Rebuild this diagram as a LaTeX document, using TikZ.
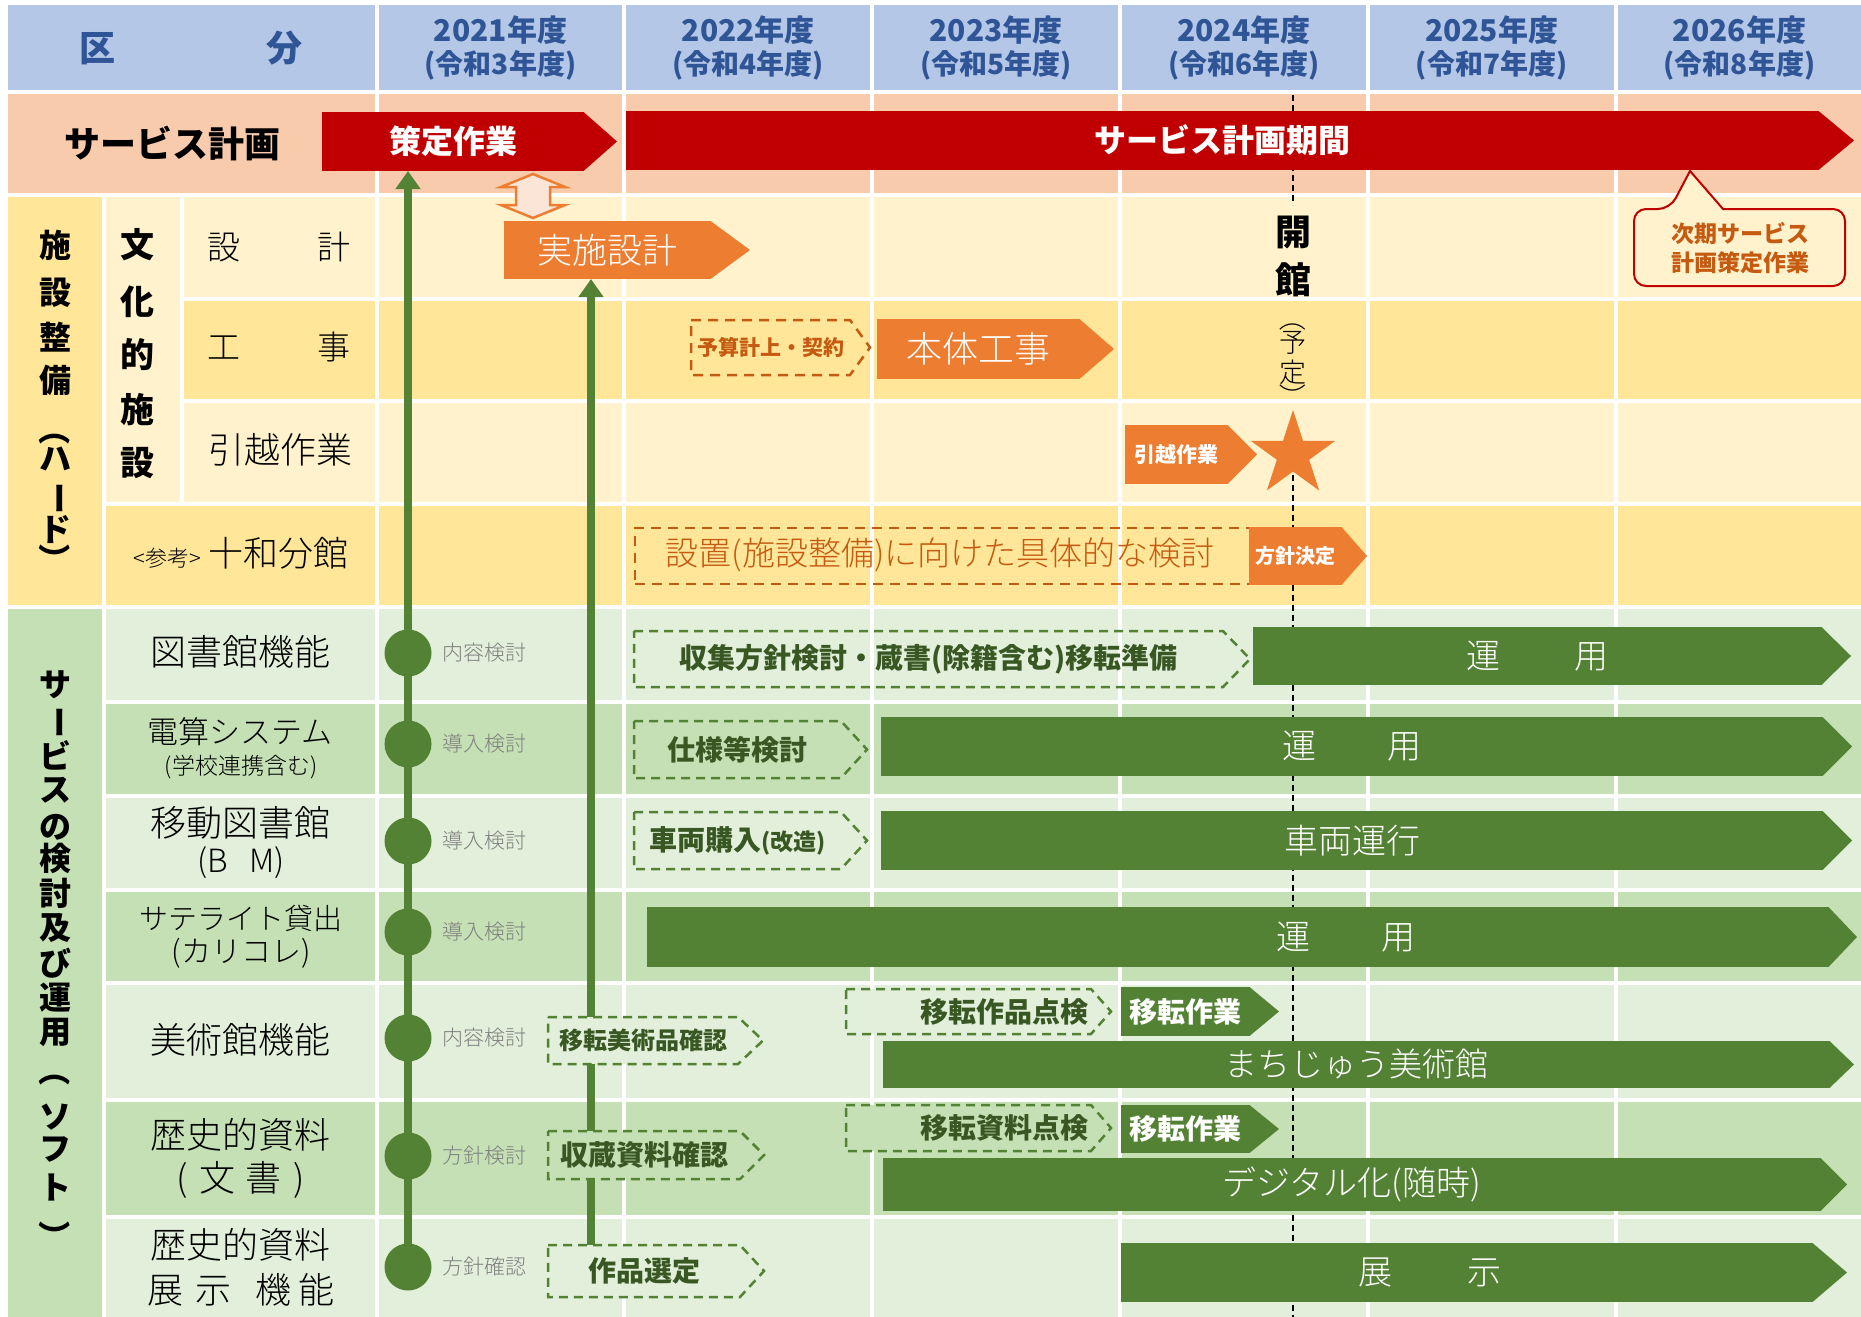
\documentclass[tikz,border=0pt]{standalone}
\usepackage{fontspec}
\setmainfont{Noto Sans CJK JP}
\newfontfamily\thinfont{Noto Sans CJK JP Light}
\usepackage{graphicx}
\usetikzlibrary{arrows.meta,shapes.geometric}

\definecolor{hdrblue}{HTML}{B4C7E7}
\definecolor{hdrtext}{HTML}{2F5597}
\definecolor{planpeach}{HTML}{F8CBAD}
\definecolor{hardL}{HTML}{FFF2CC}
\definecolor{hardD}{HTML}{FFE699}
\definecolor{softL}{HTML}{E2EFDA}
\definecolor{softD}{HTML}{C5E0B4}
\definecolor{planred}{HTML}{C00000}
\definecolor{barorange}{HTML}{ED7D31}
\definecolor{dashorange}{HTML}{C55A11}
\definecolor{arrowpeach}{HTML}{FBE5D6}
\definecolor{bargreen}{HTML}{548235}
\definecolor{textgreen}{HTML}{385723}
\definecolor{notegray}{HTML}{7F7F7F}

\newcommand{\fsz}[1]{\fontsize{#1pt}{#1pt}\selectfont}
\newcommand{\tatechar}[1]{\rotatebox[origin=c]{-90}{#1}}

\tikzset{
    gridline/.style={draw=white, line width=4pt},
    hdr/.style={text=hdrtext, font=\bfseries\fsz{30}, inner sep=0pt},
    rowname/.style={font=\thinfont\fsz{36}, inner sep=0pt},
    tatetext/.style={font=\bfseries\fsz{32}, inner sep=0pt},
    redbar/.style={fill=planred, text=white, font=\bfseries\fsz{32}, inner sep=0pt, outer sep=0pt},
    orangebar/.style={fill=barorange, text=white, inner sep=0pt, outer sep=0pt},
    greenbar/.style={fill=bargreen, text=white, font=\thinfont\fsz{34}, inner sep=0pt, outer sep=0pt},
    orangebox/.style={text=dashorange, font=\bfseries\fsz{21}, inner sep=0pt, outer sep=0pt},
    greenbox/.style={text=textgreen, font=\bfseries\fsz{28}, inner sep=0pt, outer sep=0pt},
    orangedash/.style={draw=dashorange, line width=2.5pt, dash pattern=on 10pt off 7pt},
    greendash/.style={draw=bargreen, line width=2.5pt, dash pattern=on 9pt off 6pt},
    milestone/.style={circle, fill=bargreen, minimum size=47pt, inner sep=0pt},
    note/.style={text=notegray, font=\thinfont\fsz{21}, inner sep=0pt, anchor=west, xshift=10pt},
    flow/.style={draw=bargreen, line width=8pt, -{Triangle[width=24pt,length=18pt]}},
    openline/.style={draw=black, line width=1.5pt, dash pattern=on 6pt off 4pt},
}

\begin{document}
\begin{tikzpicture}[x=1pt, y=-1pt, line width=1pt]
\useasboundingbox (0,0) rectangle (1861,1317);
\fill[white] (0,0) rectangle (1861,1317);

% bands
\fill[hdrblue] (8,5) rectangle (1861,92);
\fill[planpeach] (8,92) rectangle (1861,195);
\fill[hardD] (8,195) rectangle (104,607);
\fill[hardL] (104,195) rectangle (182,504);
\fill[hardL] (182,195) rectangle (1861,299);
\fill[hardD] (182,299) rectangle (1861,401);
\fill[hardL] (182,401) rectangle (1861,504);
\fill[hardD] (104,504) rectangle (1861,607);
\fill[softD] (8,607) rectangle (104,1317);
\foreach \top/\bot/\c in {607/701.5/softL, 701.5/795.5/softD, 795.5/889.5/softL, 889.5/983/softD, 983/1100/softL, 1100/1217/softD, 1217/1317/softL}
    \fill[\c] (104,\top) rectangle (1861,\bot);

% grid
\foreach \x in {377,624,872,1120,1368,1616}
    \draw[gridline] (\x,5) -- (\x,1317);
\draw[gridline] (104,195) -- (104,1317);
\draw[gridline] (182,195) -- (182,504);
\foreach \y in {92,195,607}
    \draw[gridline] (8,\y) -- (1861,\y);
\foreach \y in {299,401}
    \draw[gridline] (182,\y) -- (1861,\y);
\draw[gridline] (104,504) -- (1861,504);
\foreach \y in {701.5,795.5,889.5,983,1100,1217}
    \draw[gridline] (104,\y) -- (1861,\y);

% header
\node[hdr, font=\bfseries\fsz{36}] (kubun) at (191,48) {区\hspace{151pt}分};
\foreach \yr/\rw [count=\i] in {2021/3,2022/4,2023/5,2024/6,2025/7,2026/8} {
    \node[hdr] (year\i) at (500.5+247.8*\i-247.8,30) {\yr 年度};
    \node[hdr, font=\bfseries\fsz{28}] (reiwa\i) at (500.5+247.8*\i-247.8,65) {(令和\rw 年度)};
}

% left labels
\node[font=\bfseries\fsz{36}, inner sep=0pt] (plan) at (172,143) {サービス計画};
\foreach \c/\y in {施/245, 設/293, 整/337, 備/380, \tatechar{（}/429, ハ/459, \tatechar{ー}/498, ド/530, \tatechar{）}/559}
    \node[tatetext] at (55,\y) {\c};
\foreach \c/\y in {文/245, 化/302, 的/355, 施/410, 設/463}
    \node[tatetext, font=\bfseries\fsz{34}] at (137,\y) {\c};
\foreach \c/\y in {サ/685, \tatechar{ー}/722, ビ/755, ス/790, の/827, 検/858, 討/893, 及/928, び/963, 運/998, 用/1032, \tatechar{（}/1070, ソ/1117, フ/1150, ト/1187, \tatechar{）}/1236}
    \node[tatetext] at (55,\y) {\c};

\node[rowname, font=\thinfont\fsz{33}] (sekkei) at (279,247) {設\hspace{78pt}計};
\node[rowname, font=\thinfont\fsz{33}] (kouji) at (279,347) {工\hspace{78pt}事};
\node[rowname] (hikkoshi) at (280,450) {引越作業};
\node[rowname, font=\thinfont\fsz{35}] (towada) at (241,553) {{\fsz{22}<参考>}\hspace{8pt}十和分館};
\node[rowname] (tosho) at (240,652) {図書館機能};
\node[rowname, font=\thinfont\fsz{31}] (densan) at (240,732) {電算システム};
\node[rowname, font=\thinfont\fsz{23}] (densan2) at (241,767) {(学校連携含む)};
\node[rowname] (idou) at (240,823) {移動図書館};
\node[rowname, font=\thinfont\fsz{32}] (idou2) at (241,863) {(B\hspace{22pt}M)};
\node[rowname, font=\thinfont\fsz{29}] (satel) at (241,918) {サテライト貸出};
\node[rowname, font=\thinfont\fsz{30}] (satel2) at (241,953) {(カリコレ)};
\node[rowname] (bijutsu) at (240,1040) {美術館機能};
\node[rowname] (rekishi) at (240,1135) {歴史的資料};
\node[rowname] (rekishi2) at (241,1180) {(\hspace{12pt}文\hspace{10pt}書\hspace{12pt})};
\node[rowname] (tenji) at (240,1245) {歴史的資料};
\node[rowname] (tenji2) at (241,1290) {展\hspace{13pt}示\hspace{23pt}機\hspace{8pt}能};

% opening day
\coordinate (openmark) at (1293,454.5);
\draw[openline] (1293,95) -- (1293,205);
\draw[openline] (openmark) -- (1293,1317);
\node[star, star points=5, star point ratio=2.618, fill=barorange, minimum size=89pt, inner sep=0pt] (open) at (openmark) {};
\node[font=\bfseries\fsz{36}, inner sep=0pt] (kai) at (1293,233) {開};
\node[font=\bfseries\fsz{36}, inner sep=0pt] (kan) at (1293,280) {館};
\foreach \c/\y in {\tatechar{（}/318, 予/343, 定/372, \tatechar{）}/397}
    \node[font=\thinfont\fsz{27}, inner sep=0pt] at (1293,\y) {\c};

% next plan callout
\draw[draw=planred, fill=hardL, line width=2pt] (1670,209) [sharp corners] -- (1690,171) -- (1723,209) [rounded corners=12pt] -| (1845,286) -| (1634,209) -- cycle;
\node[align=center, text=dashorange, font=\bfseries\fontsize{23pt}{29pt}\selectfont] (nextplan) at (1740,248) {次期サービス\\計画策定作業};

% service plan
\node[redbar, minimum width=262pt, minimum height=59pt] (plan1) at (453,141.5) {策定作業};
\node[redbar, minimum width=1193pt, minimum height=59pt] (plan2) at (1222.5,140.5) {サービス計画期間};

% facility bars
\node[orangebar, font=\thinfont\fsz{35}, minimum width=207pt, minimum height=58pt] (design) at (607.5,250) {実施設計};
\draw[draw=barorange, fill=arrowpeach, line width=2.5pt] (533,174) -- (565,187) -- (550,187) -- (550,205) -- (565,205) -- (533,218) -- (501,205) -- (516,205) -- (516,187) -- (501,187) -- cycle;
\node[orangebox, minimum width=159pt, minimum height=55pt] (budget) at (770.5,347.5) {予算計上・契約};
\node[orangebar, font=\thinfont\fsz{36}, minimum width=203pt, minimum height=60pt] (build) at (978.5,349) {本体工事};
\node[orangebar, font=\bfseries\fsz{21}, minimum width=103pt, minimum height=59pt] (moving) at (1176.5,454.5) {引越作業};
\node[orangedash, minimum width=665pt, minimum height=56pt, inner sep=0pt] (study) at (967.5,556) {};
\node[text=dashorange, font=\thinfont\fsz{33}, inner sep=0pt] (studytext) at (940,555) {設置(施設整備)に向けた具体的な検討};
\node[orangebar, font=\bfseries\fsz{20}, minimum width=93pt, minimum height=58pt] (policy) at (1295.5,556) {方針決定};
\draw[orangedash] (budget.north west) -- (budget.north east) -- ([xshift=20pt]budget.east) -- (budget.south east) -- (budget.south west) -- cycle;

% milestones and flows
\foreach \n/\y in {c1/653, c2/744, c3/841, c4/932, c5/1038, c6/1156, c7/1267}
    \node[milestone] (\n) at (408,\y) {};
\draw[flow] (c7.center) -- (c7.center |- plan1.south);
\coordinate (pickfoot) at (591,1245);
\draw[flow] (pickfoot) -- (pickfoot |- design.south);
\foreach \n/\t in {c1/内容検討, c2/導入検討, c3/導入検討, c4/導入検討, c5/内容検討, c6/方針検討, c7/方針確認}
    \node[note] (note\n) at (\n.east) {\t};

% service bars
\node[greenbox, font=\bfseries\fsz{28}, minimum width=589pt, minimum height=56pt] (lib1) at (928.5,659) {収集方針検討・蔵書(除籍含む)移転準備};
\node[greenbar, minimum width=569pt, minimum height=58pt] (lib2) at (1537.5,656) {運\hspace{74pt}用};
\node[greenbox, minimum width=207pt, minimum height=57pt] (sys1) at (737.5,749.5) {仕様等検討};
\node[greenbar, minimum width=942pt, minimum height=59pt] (sys2) at (1352,746.5) {運\hspace{72pt}用};
\node[greenbox, minimum width=207pt, minimum height=57pt] (bm1) at (737.5,840.5) {車両購入{\fsz{23}(改造)}};
\node[greenbar, minimum width=942pt, minimum height=59pt] (bm2) at (1352,840.5) {車両運行};
\node[greenbar, minimum width=1182pt, minimum height=60pt] (sat) at (1238,937) {\hspace*{216pt}運\hspace{72pt}用};
\node[greenbox, font=\bfseries\fsz{24}, fill=softL, minimum width=190pt, minimum height=47pt] (art0) at (643,1040.5) {移転美術品確認};
\node[greenbox, fill=softL, text width=239pt, inner xsep=3pt, align=right, minimum height=45pt] (art1) at (968.5,1011.5) {移転作品点検};
\node[greenbar, font=\bfseries\fsz{28}, minimum width=129pt, minimum height=49pt] (art2) at (1185.5,1011.5) {移転作業};
\node[greenbar, font=\thinfont\fsz{33}, minimum width=947pt, minimum height=47pt] (art3) at (1356.5,1064.5) {まちじゅう美術館};
\node[greenbox, fill=softD, minimum width=192pt, minimum height=48pt] (doc0) at (644,1155) {収蔵資料確認};
\node[greenbox, fill=softD, text width=239pt, inner xsep=3pt, align=right, minimum height=46pt] (doc1) at (968.5,1128) {移転資料点検};
\node[greenbar, font=\bfseries\fsz{28}, minimum width=129pt, minimum height=48pt] (doc2) at (1185.5,1129) {移転作業};
\node[greenbar, minimum width=938pt, minimum height=53pt] (doc3) at (1352,1184.5) {デジタル化(随時)};
\node[greenbox, fill=softL, minimum width=192pt, minimum height=52pt] (show0) at (644,1271) {作品選定};
\node[greenbar, minimum width=692pt, minimum height=59pt] (show) at (1467,1272.5) {展\hspace{75pt}示\hspace*{74pt}};

% arrow tips
\foreach \n/\l/\c in {plan1/33/planred, plan2/35/planred, design/39/barorange, build/34/barorange, moving/29/barorange, policy/25/barorange, lib2/29/bargreen, sys2/29/bargreen, bm2/29/bargreen, sat/28/bargreen, art2/29/bargreen, art3/24/bargreen, doc2/29/bargreen, doc3/26/bargreen, show/34/bargreen}
    \fill[\c] ([xshift=-0.5pt]\n.north east) -- ([xshift=\l pt]\n.east) -- ([xshift=-0.5pt]\n.south east) -- cycle;
\foreach \n/\l in {lib1/27, sys1/26, bm1/26, art0/25, art1/20, doc0/24, doc1/20, show0/24}
    \draw[greendash] (\n.north west) -- (\n.north east) -- ([xshift=\l pt]\n.east) -- (\n.south east) -- (\n.south west) -- cycle;
\end{tikzpicture}
\end{document}
